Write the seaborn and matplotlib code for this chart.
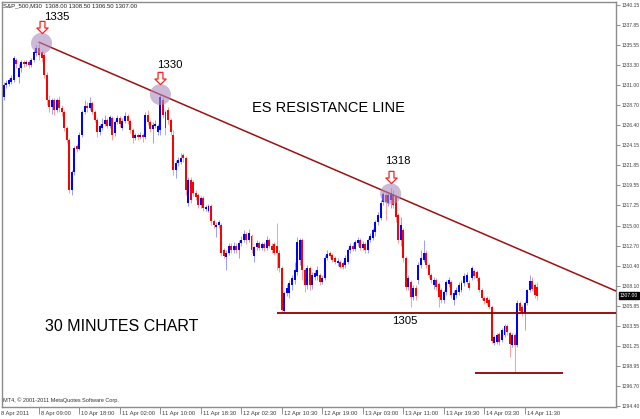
import numpy as np
import pandas as pd
import matplotlib
matplotlib.use("Agg")
import matplotlib.pyplot as plt
import seaborn as sns
from matplotlib.path import Path
from matplotlib.transforms import ScaledTranslation

sns.set_theme(style="white")
plt.rcParams["font.family"] = ["Liberation Sans", "DejaVu Sans"]

# ---- S&P 500, 30-minute bars (bar index of the first bar shown) ----
first_bar = 2
opens = [
    1329.7, 1331.0, 1331.1, 1331.4, 1331.6, 1333.9, 1331.9, 1333.0, 1333.6, 1333.4,
    1333.6, 1333.3, 1333.9, 1334.7, 1335.2, 1334.8, 1334.4, 1332.2, 1329.3, 1328.5,
    1329.3, 1328.2, 1329.3, 1328.4, 1327.9, 1326.1, 1324.7, 1319.0, 1321.1, 1324.1,
    1323.7, 1325.3, 1327.9, 1328.6, 1328.4, 1329.0, 1327.9, 1327.0, 1325.7, 1326.1,
    1326.6, 1327.0, 1326.3, 1327.2, 1325.5, 1326.8, 1327.2, 1326.1, 1326.9, 1327.5,
    1326.9, 1325.9, 1325.0, 1325.3, 1325.1, 1325.3, 1325.1, 1327.6, 1326.8, 1326.0,
    1326.3, 1325.7, 1325.9, 1329.3, 1327.9, 1328.2, 1327.0, 1325.3, 1321.3, 1322.1,
    1322.2, 1323.0, 1322.7, 1317.5, 1320.2, 1319.9, 1318.7, 1318.5, 1317.3, 1318.1,
    1316.9, 1316.7, 1317.2, 1315.5, 1314.8, 1315.0, 1315.0, 1312.2, 1311.4, 1311.9,
    1312.7, 1312.2, 1312.7, 1312.2, 1313.0, 1313.3, 1314.0, 1313.3, 1313.8, 1311.5,
    1312.5, 1313.0, 1312.4, 1312.9, 1312.4, 1313.3, 1312.7, 1312.9, 1312.6, 1311.9,
    1310.1, 1305.2, 1307.3, 1307.3, 1308.2, 1308.8, 1309.7, 1311.1, 1313.3, 1309.9,
    1308.2, 1310.1, 1308.2, 1309.1, 1309.2, 1309.3, 1308.5, 1309.0, 1311.3, 1311.8,
    1311.6, 1311.3, 1310.7, 1310.8, 1310.7, 1310.5, 1310.8, 1312.2, 1312.7, 1312.3,
    1313.0, 1313.3, 1312.4, 1312.9, 1312.2, 1313.3, 1313.6, 1314.2, 1315.4, 1315.8,
    1317.7, 1318.5, 1317.6, 1317.9, 1318.6, 1318.2, 1316.2, 1313.3, 1314.5, 1311.3,
    1308.0, 1308.5, 1306.8, 1307.9, 1308.8, 1310.5, 1311.1, 1311.9, 1310.5, 1309.3,
    1308.2, 1308.8, 1308.3, 1307.6, 1306.5, 1307.4, 1308.3, 1308.5, 1306.5, 1307.1,
    1307.4, 1307.6, 1308.4, 1308.5, 1308.4, 1309.0, 1309.8, 1309.7, 1309.0, 1307.6,
    1306.7, 1306.7, 1306.5, 1305.7, 1301.6, 1301.7, 1302.6, 1301.9, 1302.5, 1303.5,
    1302.7, 1301.4, 1302.5, 1301.4, 1306.1, 1305.7, 1305.0, 1306.1, 1307.6, 1308.6,
    1308.2, 1308.0,
]
highs = [
    1331.4, 1331.6, 1331.8, 1332.2, 1334.3, 1334.1, 1333.4, 1333.9, 1333.9, 1333.9,
    1333.9, 1334.1, 1335.0, 1335.6, 1335.8, 1335.0, 1334.8, 1332.5, 1329.9, 1329.5,
    1329.5, 1329.5, 1329.8, 1328.7, 1328.2, 1326.3, 1325.0, 1321.3, 1324.1, 1324.3,
    1325.7, 1328.2, 1329.3, 1329.1, 1329.7, 1329.2, 1328.2, 1327.2, 1326.6, 1327.2,
    1327.6, 1327.2, 1327.6, 1327.5, 1327.0, 1327.6, 1327.5, 1327.2, 1327.9, 1327.7,
    1327.1, 1326.1, 1325.5, 1325.5, 1325.7, 1325.5, 1327.9, 1328.2, 1327.0, 1326.8,
    1327.0, 1326.6, 1329.9, 1329.7, 1328.2, 1328.5, 1327.2, 1325.9, 1322.5, 1322.8,
    1323.3, 1323.3, 1322.9, 1320.5, 1320.5, 1320.2, 1319.0, 1318.7, 1318.4, 1318.4,
    1317.3, 1317.4, 1317.4, 1315.7, 1315.4, 1315.6, 1315.3, 1312.4, 1312.2, 1313.0,
    1313.0, 1313.1, 1313.0, 1313.3, 1313.8, 1314.5, 1314.3, 1314.6, 1314.0, 1312.7,
    1313.3, 1313.2, 1313.1, 1313.1, 1313.8, 1313.6, 1313.0, 1313.1, 1315.3, 1312.2,
    1310.4, 1307.5, 1308.3, 1308.8, 1309.3, 1310.8, 1313.7, 1313.6, 1313.6, 1310.1,
    1310.5, 1310.4, 1309.7, 1309.9, 1310.4, 1309.6, 1309.3, 1311.6, 1312.2, 1312.1,
    1311.8, 1311.5, 1311.3, 1311.1, 1310.9, 1311.6, 1312.4, 1313.0, 1313.0, 1313.3,
    1313.7, 1313.6, 1313.2, 1313.1, 1313.6, 1314.1, 1314.7, 1315.6, 1316.5, 1317.9,
    1318.8, 1318.7, 1318.7, 1319.3, 1319.0, 1318.5, 1316.4, 1316.0, 1314.7, 1311.5,
    1309.3, 1308.8, 1308.2, 1308.2, 1310.8, 1312.2, 1313.3, 1312.2, 1310.7, 1309.6,
    1309.1, 1309.0, 1308.5, 1307.9, 1307.6, 1308.8, 1309.1, 1308.8, 1307.6, 1308.0,
    1308.5, 1308.8, 1309.6, 1309.7, 1308.8, 1310.4, 1310.0, 1309.9, 1309.2, 1307.9,
    1306.9, 1306.9, 1306.7, 1305.9, 1302.5, 1302.7, 1302.8, 1303.3, 1303.7, 1303.7,
    1302.9, 1302.7, 1302.7, 1306.5, 1306.4, 1305.9, 1306.4, 1307.8, 1309.3, 1309.1,
    1308.4, 1308.5,
]
lows = [
    1329.3, 1330.7, 1330.9, 1331.1, 1331.4, 1333.0, 1331.2, 1332.5, 1333.1, 1333.2,
    1333.0, 1333.1, 1333.6, 1334.3, 1333.9, 1333.6, 1331.8, 1328.7, 1327.9, 1327.7,
    1327.6, 1327.9, 1327.9, 1327.5, 1325.8, 1324.4, 1318.7, 1318.5, 1320.7, 1323.4,
    1323.6, 1325.1, 1327.7, 1327.9, 1328.2, 1327.7, 1326.8, 1325.1, 1325.3, 1325.9,
    1326.3, 1326.1, 1326.1, 1324.7, 1325.2, 1326.6, 1326.2, 1325.9, 1326.7, 1326.6,
    1325.5, 1324.4, 1324.7, 1324.7, 1324.9, 1324.5, 1324.9, 1326.5, 1325.7, 1324.4,
    1326.1, 1325.3, 1325.3, 1327.2, 1325.3, 1326.6, 1325.3, 1320.7, 1320.4, 1321.8,
    1322.0, 1322.2, 1318.5, 1317.2, 1317.5, 1318.3, 1317.9, 1317.0, 1317.0, 1316.7,
    1316.6, 1316.5, 1315.0, 1314.7, 1313.7, 1314.7, 1311.5, 1311.3, 1309.9, 1311.6,
    1311.8, 1311.9, 1311.9, 1311.3, 1312.6, 1313.1, 1312.9, 1313.1, 1311.8, 1310.8,
    1312.2, 1312.2, 1312.2, 1312.1, 1312.2, 1312.4, 1311.8, 1311.6, 1309.9, 1309.7,
    1305.0, 1305.0, 1306.9, 1306.7, 1307.6, 1308.3, 1309.3, 1310.5, 1308.8, 1307.4,
    1307.8, 1307.6, 1307.8, 1308.8, 1308.8, 1308.2, 1308.3, 1308.8, 1311.1, 1311.3,
    1310.8, 1310.6, 1310.4, 1310.1, 1310.0, 1310.1, 1310.6, 1311.9, 1312.1, 1312.1,
    1312.6, 1312.2, 1312.2, 1311.9, 1311.9, 1313.1, 1313.3, 1313.8, 1315.0, 1315.6,
    1317.3, 1315.6, 1317.2, 1317.0, 1317.0, 1315.4, 1313.0, 1312.7, 1310.8, 1307.6,
    1307.6, 1305.7, 1306.5, 1306.5, 1308.3, 1310.1, 1310.8, 1310.1, 1309.0, 1308.4,
    1307.8, 1307.6, 1305.7, 1306.1, 1306.1, 1307.1, 1308.0, 1306.7, 1305.9, 1306.7,
    1307.1, 1307.4, 1308.1, 1308.3, 1307.6, 1308.8, 1308.9, 1308.6, 1307.4, 1306.5,
    1306.0, 1305.9, 1305.5, 1301.6, 1301.4, 1301.5, 1301.3, 1301.7, 1302.3, 1302.5,
    1300.0, 1301.1, 1298.2, 1301.1, 1305.0, 1304.7, 1303.1, 1305.9, 1307.4, 1307.5,
    1306.7, 1306.5,
]
closes = [
    1331.0, 1331.2, 1331.6, 1331.8, 1334.1, 1333.4, 1333.0, 1333.6, 1333.4, 1333.6,
    1333.3, 1333.9, 1334.8, 1335.2, 1334.4, 1334.1, 1332.2, 1329.3, 1328.5, 1329.3,
    1328.2, 1329.3, 1328.4, 1327.9, 1326.1, 1324.7, 1319.0, 1321.1, 1323.8, 1323.7,
    1325.3, 1327.9, 1328.6, 1328.4, 1329.0, 1327.9, 1327.0, 1325.7, 1326.3, 1326.6,
    1327.0, 1326.3, 1327.4, 1325.3, 1326.8, 1327.2, 1326.6, 1326.9, 1327.5, 1326.9,
    1325.9, 1325.0, 1325.3, 1325.1, 1325.3, 1325.1, 1327.6, 1326.8, 1326.0, 1326.5,
    1326.6, 1326.3, 1329.7, 1327.6, 1326.1, 1327.0, 1325.7, 1321.3, 1322.1, 1322.5,
    1322.7, 1322.7, 1319.0, 1320.2, 1317.9, 1318.7, 1318.2, 1317.3, 1318.1, 1317.0,
    1317.1, 1317.2, 1315.5, 1315.0, 1315.1, 1315.4, 1311.9, 1311.5, 1311.9, 1312.7,
    1312.2, 1312.7, 1312.2, 1313.0, 1313.3, 1314.0, 1313.3, 1314.1, 1312.2, 1312.5,
    1313.0, 1312.4, 1312.9, 1312.4, 1313.3, 1312.7, 1312.2, 1311.9, 1311.9, 1310.1,
    1305.3, 1307.3, 1307.9, 1308.4, 1309.0, 1309.9, 1313.1, 1313.3, 1309.9, 1308.2,
    1310.1, 1308.2, 1309.3, 1309.6, 1309.9, 1308.5, 1309.0, 1311.3, 1311.7, 1311.5,
    1311.1, 1310.8, 1310.9, 1310.2, 1310.2, 1311.3, 1312.2, 1312.7, 1312.3, 1313.1,
    1313.3, 1312.4, 1312.9, 1312.2, 1313.3, 1313.8, 1314.5, 1315.4, 1316.2, 1317.6,
    1318.6, 1317.7, 1318.5, 1318.7, 1317.3, 1316.0, 1313.3, 1315.0, 1311.3, 1308.0,
    1309.0, 1306.8, 1307.9, 1306.9, 1310.5, 1311.3, 1311.9, 1310.5, 1309.3, 1308.8,
    1308.8, 1308.0, 1306.8, 1306.5, 1307.4, 1308.5, 1308.8, 1307.1, 1307.3, 1307.6,
    1308.2, 1308.4, 1309.2, 1309.3, 1307.9, 1310.1, 1309.2, 1309.0, 1307.6, 1306.7,
    1306.4, 1306.1, 1305.7, 1301.8, 1302.3, 1302.5, 1301.7, 1303.1, 1303.5, 1302.8,
    1301.5, 1302.5, 1301.4, 1306.1, 1305.2, 1305.0, 1306.1, 1307.6, 1308.6, 1307.7,
    1307.1, 1307.0,
]

# Time axis labels, one every 16 bars (8 hours)
time_labels = ["8 Apr 2011", "8 Apr 09:00", "10 Apr 18:00", "11 Apr 02:00",
               "11 Apr 10:00", "11 Apr 18:30", "12 Apr 02:30", "12 Apr 10:30",
               "12 Apr 19:00", "13 Apr 03:00", "13 Apr 11:00", "13 Apr 19:30",
               "14 Apr 03:30", "14 Apr 11:30"]
price_labels = ["1294.40", "1296.70", "1298.95", "1301.25", "1303.55", "1305.85",
                "1308.10", "1310.40", "1312.70", "1315.00", "1317.25", "1319.55",
                "1321.85", "1324.15", "1326.40", "1328.70", "1331.00", "1333.30",
                "1335.55", "1337.85", "1340.15"]

# Resistance line anchored on two swing highs, swing-high labels, support levels
trend_bars = [16, 155]
trend_prices = [1335.9, 1318.6]
pivot_bars = [17, 64, 155]
pivot_labels = [1335, 1330, 1318]
support_level = 1305.0
low_level = 1298.2

assert len(opens) == len(highs) == len(lows) == len(closes)
df = pd.DataFrame({"open": opens, "high": highs, "low": lows, "close": closes})
df["bar"] = np.arange(first_bar, first_bar + len(df))
df["up"] = df["close"] >= df["open"]

fig = plt.figure(figsize=(6.4, 4.19), dpi=100)
ax = fig.add_axes([2 / 640, 12 / 419, 614 / 640, 405 / 419])
x_lo, x_hi = 1.38, 244.07
ax.set_xlim(x_lo, x_hi)
ax.set_ylim(1294.28, 1340.49)
ax.set_facecolor("white")
for s in ax.spines.values():
    s.set_color("#8c8c8c")
    s.set_linewidth(1.0)

# candles: thin pale wicks, solid bodies
body_col = np.where(df["up"], "#0000ff", "#ff0000")
ax.vlines(df["bar"], df["low"], df["high"], colors=body_col, linewidth=0.65,
          alpha=0.42, zorder=2)
ax.bar(df["bar"], df["close"] - df["open"], bottom=df["open"], width=0.78,
       color=body_col, linewidth=0, zorder=3)

# resistance line, extended to the right edge
slope = (trend_prices[1] - trend_prices[0]) / (trend_bars[1] - trend_bars[0])
tx = np.array([trend_bars[0], x_hi])
ty = trend_prices[0] + slope * (tx - trend_bars[0])
sns.lineplot(x=tx, y=ty, ax=ax, color="#9c1010", linewidth=1.1, zorder=4)

# support levels
ax.hlines(support_level, 110, x_hi, color="#8b0000", linewidth=1.3, zorder=4)
ax.hlines(low_level, 188.3, 223.1, color="#8b0000", linewidth=1.3, zorder=4)
ax.annotate(f"{support_level:.0f}", xy=(160.7, support_level), xytext=(0, -8),
            textcoords="offset pixels", ha="center", va="center", fontsize=8.2,
            color="black")

# highlighted swing highs on the resistance line
py = [trend_prices[0] + slope * (b - trend_bars[0]) for b in pivot_bars]
sns.scatterplot(x=pivot_bars, y=py, ax=ax, s=228, color="#a98bbd", alpha=0.6,
                edgecolor="none", zorder=5, legend=False)

arrow = Path([(-2.4, 6), (2.4, 6), (2.4, -0.5), (5.5, -0.5), (0, -6),
              (-5.5, -0.5), (-2.4, -0.5), (-2.4, 6)],
             [Path.MOVETO] + [Path.LINETO] * 6 + [Path.CLOSEPOLY])
up_shift = ScaledTranslation(0, 16.5 / 100, fig.dpi_scale_trans)
ax.plot(pivot_bars, py, linestyle="none", marker=arrow, markersize=8.8,
        markerfacecolor="white", markeredgecolor="#ff2020", markeredgewidth=0.9,
        transform=ax.transData + up_shift, zorder=6, clip_on=False)

label_offsets = [(15, 26), (9, 30), (7.5, 32.5)]
for b, v, lab, off in zip(pivot_bars, py, pivot_labels, label_offsets):
    ax.annotate(str(lab), xy=(b, v), xytext=off, textcoords="offset pixels",
                ha="center", va="center", fontsize=8.2, color="black")

# axes: prices on the right, time along the bottom
tick_vals = np.linspace(1294.40, 1340.15, len(price_labels))
ax.set_yticks(tick_vals)
ax.set_yticklabels(price_labels)
ax.tick_params(axis="y", left=False, right=True, labelleft=False, labelright=True,
               length=3, width=0.6, color="#808080", pad=0.8, labelsize=3.6,
               labelcolor="#404040")
label_bars = [16 * k for k in range(len(time_labels))]
ax.set_xticks([b for b in label_bars if b >= x_lo])
ax.set_xticklabels([])
ax.tick_params(axis="x", bottom=True, length=5, width=0.6, color="#808080")
for b, lab in zip(label_bars, time_labels):
    ax.annotate(lab, xy=(b, 0), xycoords=("data", "axes fraction"),
                xytext=(2, -6), textcoords="offset pixels", ha="left",
                va="center", fontsize=4.2, color="#404040",
                annotation_clip=False)

# current price tag
ax.annotate(f"{closes[-1]:.2f}", xy=(1, closes[-1]),
            xycoords=("axes fraction", "data"), xytext=(4, 0),
            textcoords="offset pixels", ha="left", va="center", fontsize=3.6,
            color="white", zorder=7,
            bbox=dict(boxstyle="square,pad=0.2", fc="black", ec="black"))

# chart titles and captions
fig.text(3 / 640, 1 - 6 / 419,
         f"S&P_500,M30  {opens[-1]:.2f} {highs[-1]:.2f} {lows[-1]:.2f} {closes[-1]:.2f}",
         fontsize=4.3, color="#202020", va="center", ha="left")
fig.text(3 / 640, 1 - 400 / 419, "MT4, \u00a9 2001-2011 MetaQuotes Software Corp.",
         fontsize=4, color="#303030", va="center", ha="left")
fig.text(328 / 640, 1 - 108 / 419, "ES RESISTANCE LINE", fontsize=10.5,
         color="black", ha="center", va="center")
fig.text(121.5 / 640, 1 - 326 / 419, "30 MINUTES CHART", fontsize=11.5,
         color="black", ha="center", va="center")

fig.savefig("out.png", dpi=100, facecolor="white")
